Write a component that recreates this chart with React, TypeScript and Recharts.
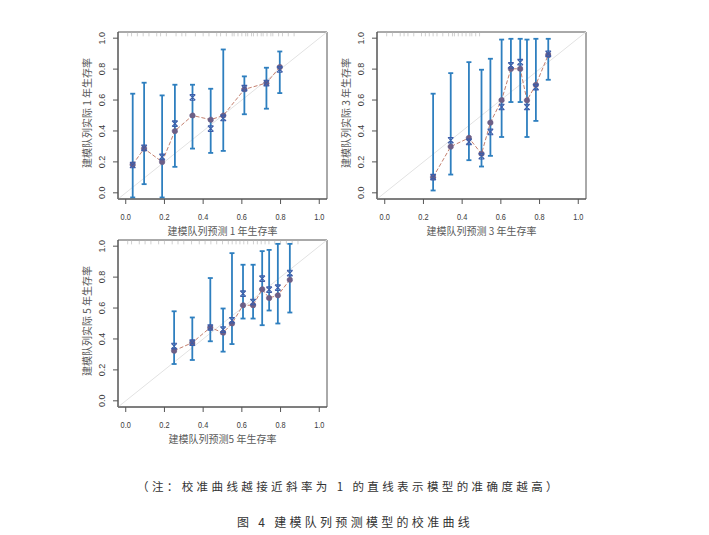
import React from 'react';
import { ComposedChart, Line, Scatter, XAxis, YAxis, ErrorBar, ReferenceLine, ReferenceArea } from 'recharts';

const axisTicks = [0, 0.2, 0.4, 0.6, 0.8, 1.0];

// Panel 1: 1-year
const p1Pred = [0.036, 0.095, 0.188, 0.254, 0.345, 0.439, 0.504, 0.613, 0.727, 0.796];
const p1Obs = [0.183, 0.286, 0.2, 0.4, 0.5, 0.473, 0.5, 0.669, 0.71, 0.813];
const p1Bc = [0.18, 0.29, 0.232, 0.447, 0.617, 0.415, 0.484, 0.677, 0.71, 0.798];
const p1Lo = [-0.03, 0.056, -0.03, 0.168, 0.286, 0.258, 0.271, 0.508, 0.544, 0.645];
const p1Hi = [0.641, 0.712, 0.63, 0.699, 0.699, 0.673, 0.927, 0.753, 0.809, 0.914];
const p1Rug = [0.01, 0.03, 0.06, 0.09, 0.12, 0.16, 0.18, 0.21, 0.26, 0.29, 0.31, 0.36, 0.4, 0.43, 0.47, 0.49, 0.52, 0.55, 0.56, 0.58, 0.6, 0.62, 0.63, 0.65, 0.66, 0.68, 0.7, 0.71, 0.73, 0.75, 0.76, 0.79, 0.81, 0.84, 0.87];

// Panel 2: 3-year
const p3Pred = [0.25, 0.341, 0.435, 0.5, 0.546, 0.604, 0.652, 0.7, 0.735, 0.781, 0.845];
const p3Obs = [0.101, 0.299, 0.355, 0.252, 0.454, 0.6, 0.802, 0.802, 0.598, 0.699, 0.892];
const p3Bc = [0.101, 0.34, 0.329, 0.237, 0.394, 0.555, 0.824, 0.845, 0.555, 0.684, 0.899];
const p3Lo = [0.015, 0.118, 0.211, 0.17, 0.239, 0.361, 0.587, 0.587, 0.361, 0.465, 0.731];
const p3Hi = [0.641, 0.774, 0.845, 0.796, 0.867, 0.991, 0.996, 0.996, 0.991, 0.996, 0.996];
const p3Rug = [0.01, 0.04, 0.08, 0.1, 0.12, 0.15, 0.19, 0.21, 0.23, 0.25, 0.27, 0.3, 0.33, 0.35, 0.36, 0.38, 0.4, 0.42, 0.44, 0.45, 0.47, 0.49];

// Panel 3: 5-year
const p5Pred = [0.25, 0.344, 0.437, 0.503, 0.549, 0.606, 0.658, 0.705, 0.741, 0.786, 0.848];
const p5Obs = [0.324, 0.376, 0.474, 0.44, 0.5, 0.618, 0.618, 0.721, 0.665, 0.682, 0.783];
const p5Bc = [0.354, 0.376, 0.474, 0.461, 0.521, 0.693, 0.639, 0.79, 0.719, 0.732, 0.826];
const p5Lo = [0.238, 0.264, 0.385, 0.318, 0.367, 0.532, 0.532, 0.489, 0.584, 0.5, 0.571];
const p5Hi = [0.579, 0.539, 0.794, 0.597, 0.955, 0.88, 0.88, 0.968, 0.976, 1.015, 1.015];
const p5Rug = [0.01, 0.03, 0.07, 0.1, 0.13, 0.17, 0.2, 0.24, 0.27, 0.3, 0.34, 0.38, 0.41, 0.44, 0.47, 0.5, 0.53, 0.55, 0.57, 0.59, 0.61, 0.63, 0.66, 0.68, 0.7, 0.72, 0.74, 0.77, 0.8, 0.83, 0.86, 0.89];

const BOX = '#555';
const BAR = '#2e7fbf';
const OBS = '#6d5f86';
const LINE = '#c4806f';
const BC = '#3d5ca8';
const DIAG = '#e2e2e2';
const RUG = '#c4c4c4';
const TXT = '#3a3a3a';
const TTL = '#5a5a5a';
const CJK = '"Noto Sans CJK SC", "Noto Sans", sans-serif';
const SANS = '"Liberation Sans", Arial, sans-serif';

const PLOT_W = 209;
const PLOT_H = 167;
const Y_AXIS_W = 48;
const M_TOP = 12;
const M_RIGHT = 13;
const X_AXIS_H = 40;
const DOM: [number, number] = [-0.04, 1.04];

const XTick = (props: any) => {
  const { x, y, payload } = props;
  return (
    <text
      transform={`translate(${x},${y}) scale(0.82,1)`}
      textAnchor="middle"
      dominantBaseline="central"
      fontSize={9}
      fontFamily={SANS}
      fill={TXT}
    >
      {Number(payload.value).toFixed(1)}
    </text>
  );
};

const YTick = (props: any) => {
  const { x, y, payload } = props;
  return (
    <text
      transform={`translate(${x},${y}) rotate(-90)`}
      textAnchor="middle"
      dominantBaseline="central"
      fontSize={9}
      fontFamily={SANS}
      fill={TXT}
    >
      {Number(payload.value).toFixed(1)}
    </text>
  );
};

const XMark = (props: any) => {
  const { cx, cy } = props;
  if (cx == null || cy == null) return null;
  const s = 2.8;
  return (
    <path
      d={`M${cx - s},${cy - s}L${cx + s},${cy + s}M${cx - s},${cy + s}L${cx + s},${cy - s}M${cx - s},${cy - s}L${cx + s},${cy - s}M${cx - s},${cy + s}L${cx + s},${cy + s}`}
      stroke={BC}
      strokeWidth={1.1}
      fill="none"
    />
  );
};

type PanelProps = {
  boxLeft: number;
  boxTop: number;
  pred: number[];
  obs: number[];
  bc: number[];
  lo: number[];
  hi: number[];
  rug: number[];
  xTitle: string;
  yTitle: string;
};

const Panel = ({ boxLeft, boxTop, pred, obs, bc, lo, hi, rug, xTitle, yTitle }: PanelProps) => {
  const data = pred.map((p, i) => ({
    x: p,
    obs: obs[i],
    bc: bc[i],
    err: [obs[i] - lo[i], hi[i] - obs[i]],
  }));
  const w = Y_AXIS_W + PLOT_W + M_RIGHT;
  const h = M_TOP + PLOT_H + X_AXIS_H;
  return (
    <>
      <div style={{ position: 'absolute', left: boxLeft - Y_AXIS_W, top: boxTop - M_TOP }}>
        <ComposedChart width={w} height={h} data={data} margin={{ top: M_TOP, right: M_RIGHT, bottom: 0, left: 0 }}>
          <XAxis
            type="number"
            dataKey="x"
            domain={DOM}
            ticks={axisTicks}
            allowDataOverflow
            interval={0}
            height={X_AXIS_H}
            tickSize={5}
            tickMargin={13}
            stroke={BOX}
            tick={<XTick />}
          />
          <YAxis
            type="number"
            domain={DOM}
            ticks={axisTicks}
            allowDataOverflow
            interval={0}
            width={Y_AXIS_W}
            tickSize={5}
            tickMargin={11}
            stroke={BOX}
            tick={<YTick />}
          />
          <ReferenceLine
            segment={[{ x: -0.04, y: -0.04 }, { x: 1.04, y: 1.04 }]}
            stroke={DIAG}
            strokeWidth={1}
            ifOverflow="visible"
          />
          {rug.map((v, i) => (
            <ReferenceLine
              key={`rug-${i}`}
              segment={[{ x: v, y: 1.035 }, { x: v, y: 1.012 }]}
              stroke={RUG}
              strokeWidth={0.8}
              ifOverflow="visible"
            />
          ))}
          <Line
            type="linear"
            dataKey="obs"
            stroke={LINE}
            strokeWidth={1}
            strokeDasharray="4 2"
            dot={{ r: 2.8, fill: OBS, stroke: OBS, strokeWidth: 0.5 }}
            isAnimationActive={false}
          >
            <ErrorBar dataKey="err" direction="y" width={2.5} stroke={BAR} strokeWidth={1.8} />
          </Line>
          <Scatter dataKey="bc" shape={<XMark />} isAnimationActive={false} />
          <ReferenceArea
            x1={-0.04}
            x2={1.04}
            y1={-0.04}
            y2={1.04}
            fill="none"
            stroke={BOX}
            strokeWidth={1}
            ifOverflow="visible"
          />
        </ComposedChart>
      </div>
      <div
        style={{
          position: 'absolute',
          left: boxLeft + PLOT_W / 2,
          top: boxTop + PLOT_H + 31.5,
          transform: 'translate(-50%, -50%)',
          whiteSpace: 'nowrap',
          fontFamily: CJK,
          fontSize: 10,
          color: TTL,
          lineHeight: 1,
        }}
      >
        {xTitle}
      </div>
      <div
        style={{
          position: 'absolute',
          left: boxLeft - 31,
          top: boxTop + PLOT_H / 2 - 3,
          transform: 'translate(-50%, -50%) rotate(-90deg)',
          whiteSpace: 'nowrap',
          fontFamily: CJK,
          fontSize: 10,
          color: TTL,
          lineHeight: 1,
        }}
      >
        {yTitle}
      </div>
    </>
  );
};

export default function App() {
  return (
    <div style={{ position: 'absolute', left: 0, top: 0, width: 709, height: 535, background: '#fff', overflow: 'hidden' }}>
      <Panel
        boxLeft={118}
        boxTop={32}
        pred={p1Pred}
        obs={p1Obs}
        bc={p1Bc}
        lo={p1Lo}
        hi={p1Hi}
        rug={p1Rug}
        xTitle="建模队列预测 1 年生存率"
        yTitle="建模队列实际 1 年生存率"
      />
      <Panel
        boxLeft={377}
        boxTop={32}
        pred={p3Pred}
        obs={p3Obs}
        bc={p3Bc}
        lo={p3Lo}
        hi={p3Hi}
        rug={p3Rug}
        xTitle="建模队列预测 3 年生存率"
        yTitle="建模队列实际 3 年生存率"
      />
      <Panel
        boxLeft={118}
        boxTop={240}
        pred={p5Pred}
        obs={p5Obs}
        bc={p5Bc}
        lo={p5Lo}
        hi={p5Hi}
        rug={p5Rug}
        xTitle="建模队列预测5 年生存率"
        yTitle="建模队列实际 5 年生存率"
      />
      <div
        style={{
          position: 'absolute',
          left: 349,
          top: 487,
          transform: 'translate(-50%, -50%)',
          whiteSpace: 'nowrap',
          fontFamily: CJK,
          fontSize: 11.5,
          letterSpacing: 3.4,
          color: '#333',
          lineHeight: 1,
        }}
      >
        （注：校准曲线越接近斜率为 1 的直线表示模型的准确度越高）
      </div>
      <div
        style={{
          position: 'absolute',
          left: 355,
          top: 522,
          transform: 'translate(-50%, -50%)',
          whiteSpace: 'nowrap',
          fontFamily: CJK,
          fontSize: 12,
          letterSpacing: 3.3,
          color: '#333',
          lineHeight: 1,
        }}
      >
        图 4 建模队列预测模型的校准曲线
      </div>
    </div>
  );
}
